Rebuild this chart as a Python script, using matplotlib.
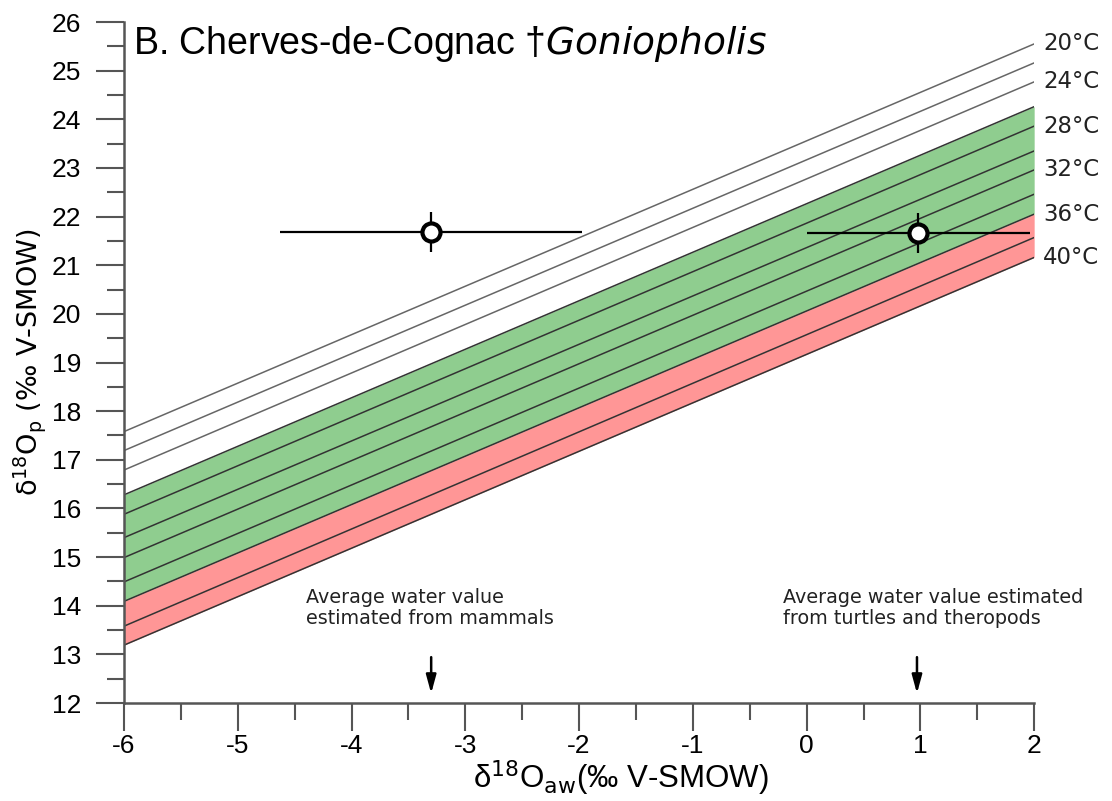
import numpy as np
import matplotlib
matplotlib.use("Agg")
import matplotlib.pyplot as plt
from matplotlib.ticker import MultipleLocator

plt.rcParams['axes.unicode_minus'] = False
plt.rcParams['mathtext.fontset'] = 'dejavusans'

# temperature lines (°C), d18Op read at the two ends of the x range
temps = [20, 22, 24, 26, 28, 30, 32, 34, 36, 38, 40]
x_ends = [-6, 2]
y_left = [17.58, 17.19, 16.79, 16.28, 15.88, 15.40, 14.99, 14.49, 14.09, 13.58, 13.19]
y_right = [25.55, 25.16, 24.77, 24.26, 23.86, 23.35, 22.96, 22.46, 22.05, 21.57, 21.16]
label_temps = [20, 24, 28, 32, 36, 40]

# data points
pt_x = [-3.30, 0.98]
pt_y = [21.69, 21.67]
pt_xerr = [[1.33, 0.98], [1.33, 0.98]]
pt_yerr = [0.41, 0.41]

arrow_x = [-3.30, 0.97]
notes = ["Average water value\nestimated from mammals",
         "Average water value estimated\nfrom turtles and theropods"]
note_x = [-4.40, -0.21]

grey = '#555555'
narrow = ['Liberation Sans', 'DejaVu Sans']

fig = plt.figure(figsize=(11.12, 8.01), dpi=100)
ax = fig.add_axes([0.1115, 0.1223, 0.8185, 0.8502])

i26 = temps.index(26)
i36 = temps.index(36)
i40 = temps.index(40)
ax.fill_between(x_ends, [y_left[i36], y_right[i36]], [y_left[i26], y_right[i26]],
                color='#8fcd8f', lw=0, zorder=1)
ax.fill_between(x_ends, [y_left[i40], y_right[i40]], [y_left[i36], y_right[i36]],
                color='#ff9696', lw=0, zorder=1)

for t, yl, yr in zip(temps, y_left, y_right):
    c = '#666666' if t < 26 else '#333333'
    ax.plot(x_ends, [yl, yr], color=c, lw=1.1, zorder=2)
    if t in label_temps:
        ax.text(2.08, yr, f"{t}°C", fontsize=16.5, va='center', ha='left',
                family='DejaVu Sans', color='#222222')

ax.errorbar(pt_x, pt_y, xerr=pt_xerr, yerr=pt_yerr, fmt='o', ms=13,
            mfc='white', mec='black', mew=3, ecolor='black', elinewidth=1.6,
            capsize=0, zorder=5)

for ax_, note, nx in zip(arrow_x, notes, note_x):
    ax.annotate('', xy=(ax_, 12.14), xytext=(ax_, 13.0),
                arrowprops=dict(arrowstyle='-|>,head_width=0.3,head_length=1.1',
                                color='black', lw=1.8))
    ax.text(nx, 14.36, note, fontsize=13.8, va='top', ha='left',
            family='DejaVu Sans', color='#222222', linespacing=1.1)

ax.text(-5.92, 25.95, r"B. Cherves-de-Cognac †$\mathit{Goniopholis}$", fontsize=27,
        va='top', ha='left', family=narrow)

ax.set_xlim(-6, 2)
ax.set_ylim(12, 26)
ax.xaxis.set_major_locator(MultipleLocator(1))
ax.xaxis.set_minor_locator(MultipleLocator(0.5))
ax.yaxis.set_major_locator(MultipleLocator(1))
ax.yaxis.set_minor_locator(MultipleLocator(0.5))

for s in ['top', 'right']:
    ax.spines[s].set_visible(False)
for s in ['left', 'bottom']:
    ax.spines[s].set_color(grey)
    ax.spines[s].set_linewidth(1.8)

ax.tick_params(which='major', direction='out', length=20, width=1.5, color=grey,
               labelsize=19)
ax.tick_params(which='minor', direction='out', length=12, width=1.5, color=grey)
ax.tick_params(axis='y', which='major', pad=11)
ax.tick_params(axis='x', which='major', pad=2)
for lab in ax.get_xticklabels() + ax.get_yticklabels():
    lab.set_family(narrow)

ax.set_xlabel("δ$^{18}$O$_{\\mathrm{aw}}$(‰ V-SMOW)", fontsize=22.5, family=narrow)
ax.xaxis.label.set_va('baseline')
ax.xaxis.set_label_coords(0.546, -0.126)
ax.set_ylabel("δ$^{18}$O$_{\\mathrm{p}}$ (‰ V-SMOW)", fontsize=19.5,
              family='DejaVu Sans')
ax.yaxis.set_label_coords(-0.083, 0.5)

fig.savefig("out.png", dpi=100)
